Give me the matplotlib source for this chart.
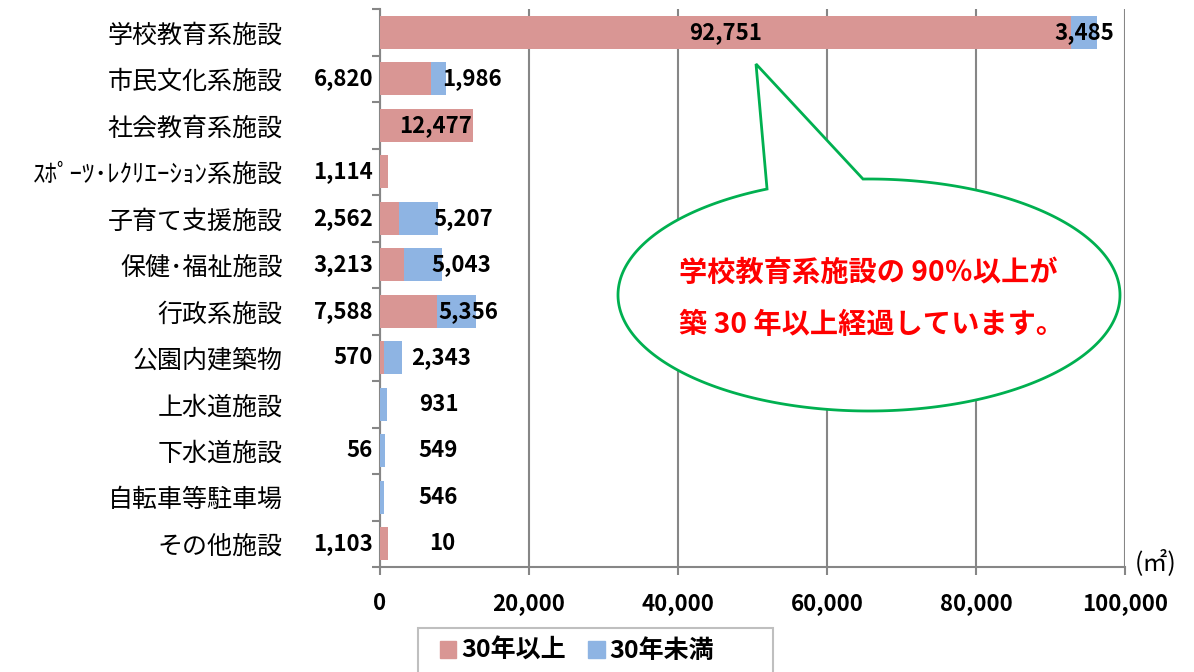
import numpy as np
import matplotlib
matplotlib.use("Agg")
import matplotlib.pyplot as plt
from matplotlib.patches import Polygon, Rectangle

plt.rcParams['font.family'] = ['Noto Sans CJK JP', 'DejaVu Sans']

# データ（㎡）
categories = ['学校教育系施設', '市民文化系施設', '社会教育系施設', 'ｽﾎﾟｰﾂ･ﾚｸﾘｴｰｼｮﾝ系施設',
              '子育て支援施設', '保健･福祉施設', '行政系施設', '公園内建築物',
              '上水道施設', '下水道施設', '自転車等駐車場', 'その他施設']
over30 = [92751, 6820, 12477, 1114, 2562, 3213, 7588, 570, 0, 56, 0, 1103]
under30 = [3485, 1986, 0, 0, 5207, 5043, 5356, 2343, 931, 549, 546, 10]
xticks = [0, 20000, 40000, 60000, 80000, 100000]

# ラベルの置き方（手で調整した位置）
old_lbl = ['mid', 'axis', 'end', 'axis', 'axis', 'axis', 'axis', 'axis', None, 'axis', None, 'axis']
new_lbl_x = ['mid', 12350, None, None, 11150, 10870, 11800, 8200, 7900, 7800, 7800, 8300]

pink = '#D99694'
blue = '#8EB4E3'
gray = '#868686'

W, H = 1194, 672
fig = plt.figure(figsize=(W / 100, H / 100), dpi=100)
ax = fig.add_axes([380 / W, 1 - 567 / H, (1125 - 380) / W, (567 - 9) / H])

y = np.arange(len(categories))
ax.barh(y, over30, height=0.7, color=pink, zorder=3)
ax.barh(y, under30, left=over30, height=0.7, color=blue, zorder=3)
ax.set_xlim(0, 100000)
ax.set_ylim(len(categories) - 0.5, -0.5)

lab = dict(fontsize=16, fontweight='bold', va='center', zorder=5)
for i in y:
    o, u = over30[i], under30[i]
    if old_lbl[i] == 'mid':
        ax.text(o / 2, i, f'{o:,}', ha='center', **lab)
    elif old_lbl[i] == 'end':
        ax.annotate(f'{o:,}', (o, i), xytext=(-1, 0), textcoords='offset points', ha='right', **lab)
    elif old_lbl[i] == 'axis':
        ax.annotate(f'{o:,}', (0, i), xytext=(-5, 0), textcoords='offset points', ha='right',
                    annotation_clip=False, **lab)
    nx = new_lbl_x[i]
    if nx == 'mid':
        ax.text(o + u / 2, i, f'{u:,}', ha='center', **lab)
    elif nx is not None:
        ax.text(nx, i, f'{u:,}', ha='center', **lab)

ax.set_xticks(xticks)
ax.set_xticklabels([f'{v:,}' for v in xticks], fontsize=16, fontweight='bold')
ax.grid(axis='x', color=gray, linewidth=1.5, zorder=0)
ax.set_yticks(y)
ax.set_yticklabels(categories, fontsize=18)
ax.set_yticks(np.arange(len(categories) + 1) - 0.5, minor=True)
ax.tick_params(axis='y', which='major', length=0, pad=70)
ax.tick_params(axis='y', which='minor', length=6, width=1.5, color=gray, direction='out')
ax.tick_params(axis='x', length=6, width=1.5, color=gray, direction='out', pad=12)
for s in ['top', 'right']:
    ax.spines[s].set_visible(False)
for s in ['left', 'bottom']:
    ax.spines[s].set_color(gray)
    ax.spines[s].set_linewidth(1.5)

fig.text(1135 / W, 1 - 563 / H, '(㎡)', fontsize=18, va='center', ha='left')

# 凡例（枠は別に描く）
fig.patches.append(Rectangle((418 / W, -0.05), (773 - 418) / W, 0.05 + 1 - 628 / H,
                             transform=fig.transFigure, facecolor='white',
                             edgecolor='#BFBFBF', linewidth=1.5))
h1 = plt.Rectangle((0, 0), 1, 1, color=pink)
h2 = plt.Rectangle((0, 0), 1, 1, color=blue)
fig.legend([h1, h2], ['30年以上', '30年未満'], loc='center left',
           bbox_to_anchor=(440 / W, 1 - 651 / H), ncol=2, frameon=False,
           prop={'size': 18, 'weight': 'bold'}, handlelength=0.65, handleheight=0.65,
           handletextpad=0.2, columnspacing=0.9, borderpad=0, borderaxespad=0)

# 吹き出し
cx, cy, a, b = 869, 295, 251, 116
t1 = np.arctan2((295 - 190) / b, (768 - cx) / a)
t2 = np.arctan2((295 - 179) / b, (863 - cx) / a) + 2 * np.pi
tt = np.linspace(t1, t2, 300)
px = np.r_[cx + a * np.cos(tt), 756]
py = np.r_[cy - b * np.sin(tt), 64]
bubble = Polygon(np.c_[px / W, 1 - py / H], closed=True, transform=fig.transFigure,
                 facecolor='white', edgecolor='#00B050', linewidth=2, zorder=10)
fig.patches.append(bubble)
fig.text(679 / W, 1 - 273 / H, '学校教育系施設の 90％以上が', color='#FF0000', fontsize=20.3,
         fontweight='bold', va='center', ha='left', zorder=11)
fig.text(679 / W, 1 - 325 / H, '築 30 年以上経過しています。', color='#FF0000', fontsize=20.3,
         fontweight='bold', va='center', ha='left', zorder=11)

fig.savefig('out.png', dpi=100)
